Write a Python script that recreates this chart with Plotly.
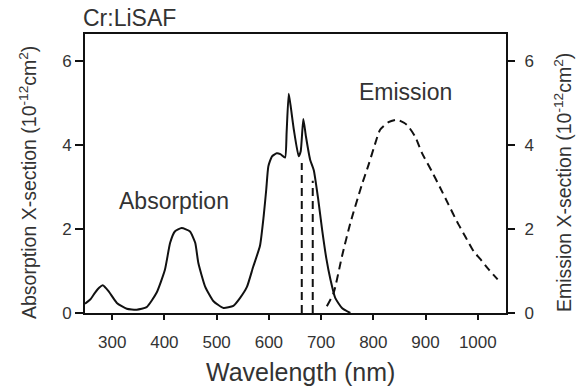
import plotly.graph_objects as go

# Absorption cross-section (solid), 1e-12 cm^2
abs_nm = [248, 258, 267, 275, 282, 293, 309, 328, 347, 366, 385, 401, 411, 420, 433, 449, 459,
          465, 478, 494, 513, 532, 545, 558, 570, 583, 590, 595, 599, 606, 615, 622, 631,
          634, 638, 642, 648, 657, 661, 666, 671, 679, 686, 694, 702, 710, 718, 727, 740, 756]
abs_val = [0.22, 0.32, 0.48, 0.6, 0.66, 0.52, 0.24, 0.1, 0.08, 0.14, 0.48, 1.03, 1.67, 1.94,
           2.02, 1.94, 1.67, 1.19, 0.63, 0.28, 0.12, 0.17, 0.36, 0.62, 1.1, 1.6, 2.3, 2.94,
           3.49, 3.73, 3.8, 3.78, 3.7, 4.3, 5.22, 4.9, 4.35, 3.73, 3.85, 4.62, 4.2, 3.65, 3.4,
           2.75, 1.98, 1.3, 0.79, 0.36, 0.12, 0.0]

# Emission cross-section (dashed), 1e-12 cm^2
emi_nm = [711, 724, 740, 756, 778, 791, 804, 813, 829, 845, 864, 880, 893, 912, 928, 944, 960,
          976, 992, 1005, 1020, 1038]
emi_val = [0.16, 0.48, 1.35, 2.14, 3.05, 3.53, 4.05, 4.36, 4.54, 4.6, 4.48, 4.2, 3.81, 3.37,
           2.98, 2.58, 2.18, 1.82, 1.47, 1.28, 1.05, 0.8]

# Two vertical dashed lines
line_nm = [663, 663, None, 684, 684]
line_val = [0.0, 3.57, None, 0.0, 3.15]

x_ticks = [300, 400, 500, 600, 700, 800, 900, 1000]
y_ticks = [0, 2, 4, 6]

FONT = "Liberation Sans, Arial, Helvetica, sans-serif"
TXT = "#333333"
LINE = "#111111"

fig = go.Figure()
fig.add_trace(go.Scatter(x=abs_nm, y=abs_val, mode="lines",
                         line=dict(color=LINE, width=2, shape="spline", smoothing=0.5),
                         showlegend=False, hoverinfo="skip"))
fig.add_trace(go.Scatter(x=emi_nm, y=emi_val, mode="lines",
                         line=dict(color=LINE, width=2, dash="8px,5px", shape="spline", smoothing=0.6),
                         showlegend=False, hoverinfo="skip"))
fig.add_trace(go.Scatter(x=line_nm, y=line_val, mode="lines",
                         line=dict(color=LINE, width=2, dash="8px,5px"),
                         showlegend=False, connectgaps=False, hoverinfo="skip"))
# invisible trace for the right axis
fig.add_trace(go.Scatter(x=[None], y=[None], yaxis="y2", showlegend=False, hoverinfo="skip"))

fig.update_layout(
    width=582, height=388,
    margin=dict(l=85, r=76, t=34, b=75),
    paper_bgcolor="white", plot_bgcolor="white",
    font=dict(family=FONT, color=TXT),
    title=dict(text="Cr:LiSAF", x=83/582, xanchor="left", xref="container",
               y=1-18/388, yanchor="middle", font=dict(size=23, color=TXT, family=FONT)),
    xaxis=dict(range=[248, 1054], tickvals=x_ticks, ticks="outside", ticklen=5, tickwidth=2,
               tickcolor=LINE, showline=True, linewidth=2, linecolor=LINE, mirror=True,
               showgrid=False, zeroline=False, tickfont=dict(size=17, color=TXT),
               ticklabelstandoff=8),
    yaxis=dict(range=[0, 6.64], tickvals=y_ticks, ticks="outside", ticklen=8, tickwidth=2,
               tickcolor=LINE, showline=True, linewidth=2, linecolor=LINE, mirror=True,
               showgrid=False, zeroline=False, tickfont=dict(size=17, color=TXT)),
    yaxis2=dict(range=[0, 6.64], tickvals=y_ticks, ticks="outside", ticklen=8, tickwidth=2,
                tickcolor=LINE, overlaying="y", side="right", showline=False,
                showgrid=False, zeroline=False, tickfont=dict(size=17, color=TXT),
                ticklabelstandoff=6),
)

plot_w, plot_h = 421, 279
def px(xp):
    return (xp - 85) / plot_w
def py(yp):
    return (313 - yp) / plot_h

fig.add_annotation(text="Wavelength (nm)", xref="paper", yref="paper", x=px(300), y=py(372),
                   showarrow=False, font=dict(size=25, color=TXT, family=FONT),
                   xanchor="center", yanchor="middle")
fig.add_annotation(text="Absorption X-section (10<sup>-12</sup>cm<sup>2</sup>)", xref="paper",
                   yref="paper", x=px(28), y=py(183), textangle=-90, showarrow=False,
                   font=dict(size=19.5, color=TXT, family=FONT), xanchor="center", yanchor="middle")
fig.add_annotation(text="Emission X-section (10<sup>-12</sup>cm<sup>2</sup>)", xref="paper",
                   yref="paper", x=px(563), y=py(183), textangle=-90, showarrow=False,
                   font=dict(size=19.5, color=TXT, family=FONT), xanchor="center", yanchor="middle")
fig.add_annotation(text="Absorption", xref="paper", yref="paper", x=px(174), y=py(201),
                   showarrow=False, font=dict(size=23, color=TXT, family=FONT),
                   xanchor="center", yanchor="middle")
fig.add_annotation(text="Emission", xref="paper", yref="paper", x=px(405), y=py(92),
                   showarrow=False, font=dict(size=23, color=TXT, family=FONT),
                   xanchor="center", yanchor="middle")

fig.write_html("out.html", config={"displayModeBar": False},
               post_script="document.body.style.margin='0';")
